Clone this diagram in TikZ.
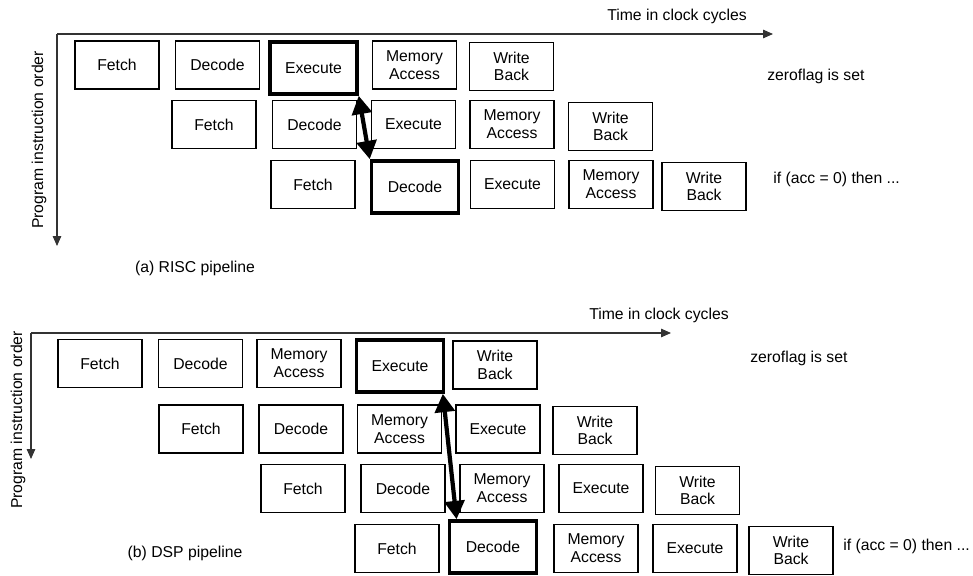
\documentclass[tikz,border=0pt]{standalone}
\usepackage{fontspec}
\setmainfont{Liberation Sans}
\usetikzlibrary{arrows.meta}

\begin{document}
\begin{tikzpicture}[x=0.025cm,y=-0.025cm,
  font=\fontsize{11.2}{12.6}\selectfont,
  stage/.style={draw,line width=0.8pt,minimum width=2.1cm,minimum height=1.2cm,align=center,inner sep=0pt},
  hot/.style={stage,line width=2.6pt,minimum width=2.17cm,minimum height=1.3cm},
  axis/.style={line width=0.8pt,draw=black!80,-{Triangle[length=7pt,width=6pt]}},
  dep/.style={line width=3pt,{Triangle[length=13pt,width=14pt]}-{Triangle[length=13pt,width=14pt]}},
  note/.style={anchor=west,inner sep=0pt}]
\useasboundingbox (0,0) rectangle (973,576);
% (a) RISC pipeline
\coordinate (ro) at (57,34);
\coordinate (rt) at (773,34);
\coordinate (rp) at (57,246);
\draw[axis] (ro) -- (rt);
\draw[axis] (ro) -- (rp);
\node (rtime) at (677,16) {Time in clock cycles};
\node[rotate=90] (rprog) at (39,140) {Program instruction order};
\node[stage] (rf1) at (117,65) {Fetch};
\node[stage] (rd1) at (217.5,65) {Decode};
\node[hot] (re1) at (313.5,68) {Execute};
\node[stage] (rm1) at (414.5,65) {Memory\\Access};
\node[stage] (rw1) at (511.5,66.5) {Write\\Back};
\node[stage] (rf2) at (214,124.5) {Fetch};
\node[stage] (rd2) at (314.5,124.5) {Decode};
\node[stage] (re2) at (413.5,124.5) {Execute};
\node[stage] (rm2) at (512,124.5) {Memory\\Access};
\node[stage] (rw2) at (610.5,126.5) {Write\\Back};
\node[stage] (rf3) at (313,184.5) {Fetch};
\node[hot] (rd3) at (415,187) {Decode};
\node[stage] (re3) at (512.5,184.5) {Execute};
\node[stage] (rm3) at (611,184.5) {Memory\\Access};
\node[stage] (rw3) at (704,186.5) {Write\\Back};
\node[note] (rzero) at (767,76) {zeroflag is set};
\node[note] (rif) at (773,179) {if (acc = 0) then ...};
\draw[dep] (re1.south east) -- (rd3.north west);
\node (rcap) at (195,268) {(a) RISC pipeline};
% (b) DSP pipeline
\coordinate (so) at (31,333);
\coordinate (st) at (671,333);
\coordinate (sp) at (31,459);
\draw[axis] (so) -- (st);
\draw[axis] (so) -- (sp);
\node (stime) at (659,315) {Time in clock cycles};
\node[rotate=90] (sprog) at (18,420) {Program instruction order};
\node[stage] (sf1) at (100,363.5) {Fetch};
\node[stage] (sd1) at (200.5,363.5) {Decode};
\node[stage] (sm1) at (299,363.5) {Memory\\Access};
\node[hot] (se1) at (400,366) {Execute};
\node[stage] (sw1) at (495,365) {Write\\Back};
\node[stage] (sf2) at (201,429) {Fetch};
\node[stage] (sd2) at (301,429) {Decode};
\node[stage] (sm2) at (399.5,429) {Memory\\Access};
\node[stage] (se2) at (498,429) {Execute};
\node[stage] (sw2) at (595,430.5) {Write\\Back};
\node[stage] (sf3) at (303,488.5) {Fetch};
\node[stage] (sd3) at (403,488.5) {Decode};
\node[stage] (sm3) at (502,488.5) {Memory\\Access};
\node[stage] (se3) at (601,488.5) {Execute};
\node[stage] (sw3) at (697.5,490.5) {Write\\Back};
\node[stage] (sf4) at (397,548.5) {Fetch};
\node[hot] (sd4) at (493,547) {Decode};
\node[stage] (sm4) at (596,548.5) {Memory\\Access};
\node[stage] (se4) at (695,548.5) {Execute};
\node[stage] (sw4) at (791,550.5) {Write\\Back};
\node[note] (szero) at (750,358) {zeroflag is set};
\node[note] (sif) at (843,546) {if (acc = 0) then ...};
\draw[dep] ([xshift=-0.06cm]se1.south east) -- ([xshift=0.22cm]sd4.north west);
\node (scap) at (185,553) {(b) DSP pipeline};
\end{tikzpicture}
\end{document}
